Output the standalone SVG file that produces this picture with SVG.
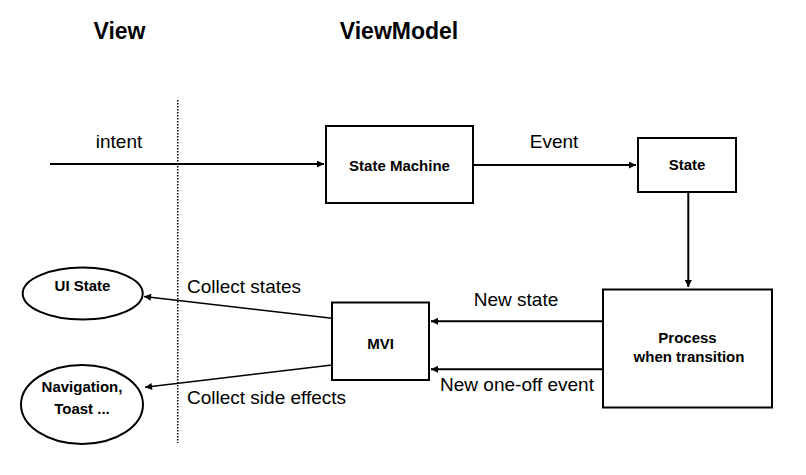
<svg xmlns="http://www.w3.org/2000/svg" width="806" height="475" viewBox="0 0 806 475">
<style>
.title{font-family:"Liberation Sans",Arial,sans-serif;font-weight:bold;font-size:23px;fill:#000;text-anchor:middle}
.lbl{font-family:"Liberation Sans",Arial,sans-serif;font-size:19px;fill:#000}
.node{font-family:"Liberation Sans",Arial,sans-serif;font-weight:bold;font-size:15px;fill:#000;text-anchor:middle}
.box{fill:#fff;stroke:#000;stroke-width:2}
.ln{fill:none;stroke:#000;stroke-width:2}
.thin{fill:none;stroke:#000;stroke-width:1.4}
</style>
<defs>
<marker id="ah" viewBox="0 0 10 10" refX="10" refY="5" markerWidth="9" markerHeight="7" markerUnits="userSpaceOnUse" orient="auto">
<path d="M0,0 L10,5 L0,10 z" fill="#000"/>
</marker>
</defs>
<rect width="806" height="475" fill="#fff"/>
<text class="title" x="119.5" y="38.5">View</text>
<text class="title" x="399" y="38.5">ViewModel</text>
<line x1="177.7" y1="100" x2="177.7" y2="443" stroke="#000" stroke-width="1.5" stroke-dasharray="1.5,1.5"/>
<g id="connectors">
<line class="ln" x1="50" y1="164" x2="324" y2="164" marker-end="url(#ah)"/>
<line class="ln" x1="473" y1="165" x2="636" y2="165" marker-end="url(#ah)"/>
<line class="ln" x1="688.3" y1="193" x2="688.3" y2="287" marker-end="url(#ah)"/>
<line class="ln" x1="603" y1="321.3" x2="431" y2="321.3" marker-end="url(#ah)"/>
<line class="ln" x1="603" y1="369.3" x2="431" y2="369.3" marker-end="url(#ah)"/>
<line class="thin" x1="332" y1="318.3" x2="144" y2="296.5" marker-end="url(#ah)"/>
<line class="thin" x1="332" y1="365" x2="145" y2="387.3" marker-end="url(#ah)"/>
<text class="lbl" x="119" y="148" text-anchor="middle">intent</text>
<text class="lbl" x="554" y="148" text-anchor="middle">Event</text>
<text class="lbl" x="516" y="306" text-anchor="middle">New state</text>
<text class="lbl" x="517" y="391" text-anchor="middle">New one-off event</text>
<text class="lbl" x="187" y="293">Collect states</text>
<text class="lbl" x="187" y="404">Collect side effects</text>
</g>
<g id="state-machine">
<rect class="box" x="326" y="126" width="147" height="77"/>
<text class="node" x="399.5" y="171">State Machine</text>
</g>
<g id="state">
<rect class="box" x="638" y="138" width="98" height="54"/>
<text class="node" x="687" y="170">State</text>
</g>
<g id="process">
<rect class="box" x="603" y="289.5" width="169" height="118"/>
<text class="node" x="687.5" y="343">Process</text>
<text class="node" x="689" y="361.5">when transition</text>
</g>
<g id="mvi">
<rect class="box" x="332" y="302.5" width="97" height="77.5"/>
<text class="node" x="380.5" y="349">MVI</text>
</g>
<g id="ui-state">
<ellipse class="box" cx="82.7" cy="293.5" rx="60" ry="26"/>
<text class="node" x="82.5" y="290.5">UI State</text>
</g>
<g id="navigation">
<ellipse class="box" cx="82" cy="404.5" rx="61" ry="39.5"/>
<text class="node" x="82" y="392">Navigation,</text>
<text class="node" x="82" y="413.5">Toast ...</text>
</g>
</svg>
